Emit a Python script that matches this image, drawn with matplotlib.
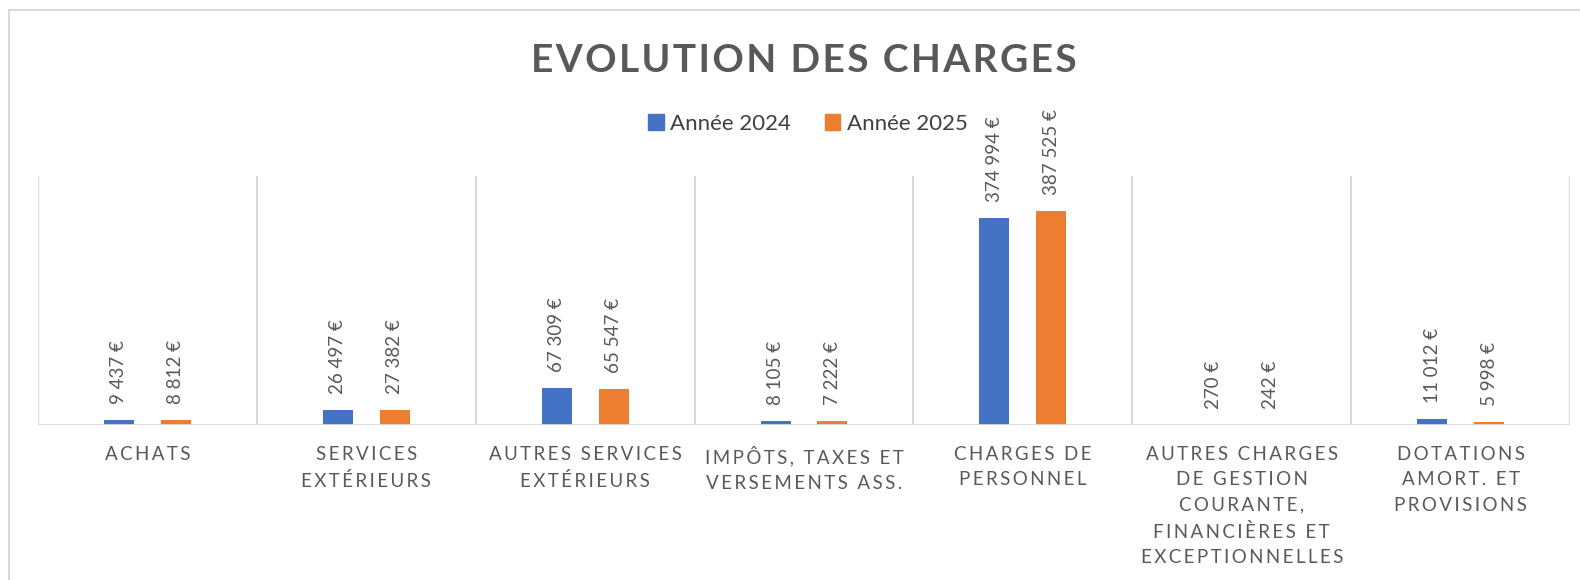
import numpy as np
import matplotlib
matplotlib.use("Agg")
import matplotlib.pyplot as plt
from matplotlib.patches import Rectangle, Patch

plt.rcParams['font.family'] = ['Lato', 'DejaVu Sans']

# Data
categories = [
    "ACHATS",
    "SERVICES\nEXTÉRIEURS",
    "AUTRES SERVICES\nEXTÉRIEURS",
    "IMPÔTS, TAXES ET\nVERSEMENTS ASS.",
    "CHARGES DE\nPERSONNEL",
    "AUTRES CHARGES\nDE GESTION\nCOURANTE,\nFINANCIÈRES ET\nEXCEPTIONNELLES",
    "DOTATIONS\nAMORT. ET\nPROVISIONS",
]
annee_2024 = [9437, 26497, 67309, 8105, 374994, 270, 11012]
annee_2025 = [8812, 27382, 65547, 7222, 387525, 242, 5998]
series_names = ["Année 2024", "Année 2025"]

BLUE = "#4472C4"
ORANGE = "#ED7D31"
GRAY = "#595959"
GRID = "#D9D9D9"


def spaced(s, sep="\u2009"):
    # fake letter spacing, line by line
    return "\n".join(sep.join(line) for line in s.split("\n"))


def euro(v):
    return f"{v:,}".replace(",", " ") + " €"


W, H = 1580, 580
fig = plt.figure(figsize=(W / 100, H / 100), dpi=100)
ax = fig.add_axes([38 / W, 1 - 425 / H, (1570 - 38) / W, (425 - 176) / H])

x = np.arange(len(categories))
bw = 0.137
off = 0.13
b1 = ax.bar(x - off, annee_2024, bw, color=BLUE, zorder=3)
b2 = ax.bar(x + off, annee_2025, bw, color=ORANGE, zorder=3)

for bars, vals in ((b1, annee_2024), (b2, annee_2025)):
    for rect, v in zip(bars, vals):
        ax.annotate(euro(v), (rect.get_x() + rect.get_width() / 2, v),
                    xytext=(0, 16), textcoords="offset pixels",
                    rotation=90, ha="center", va="bottom",
                    fontsize=13.5, color=GRAY)

ax.set_xlim(-0.5, len(categories) - 0.5)
ax.set_ylim(0, 450000)
for k in range(len(categories) + 1):
    ax.axvline(k - 0.5, color=GRID, lw=1.5, zorder=1)
ax.axhline(0, color=GRID, lw=2, zorder=4)

for s in ax.spines.values():
    s.set_visible(False)
ax.set_yticks([])
ax.set_xticks(x)
ax.set_xticklabels([spaced(c) for c in categories], fontsize=13.5,
                   color=GRAY, linespacing=1.6)
ax.tick_params(axis="x", length=0, pad=15)

fig.text(804 / W, 1 - 60 / H, spaced("EVOLUTION DES CHARGES", "\u200a"),
         ha="center", va="center", fontsize=28, fontweight="bold", color=GRAY)

handles = [Patch(color=BLUE), Patch(color=ORANGE)]
fig.legend(handles, series_names, loc="center", bbox_to_anchor=(808 / W, 1 - 124 / H),
           ncol=2, frameon=False, fontsize=16, labelcolor="#404040",
           handlelength=0.7, handleheight=0.7, handletextpad=0.3, columnspacing=1.5)

fig.add_artist(Rectangle((9 / W, -0.1), 2, 1.1 - 10 / H, transform=fig.transFigure,
                         fill=False, edgecolor=GRID, lw=1.5))

fig.savefig("out.png", dpi=100, facecolor="white")
